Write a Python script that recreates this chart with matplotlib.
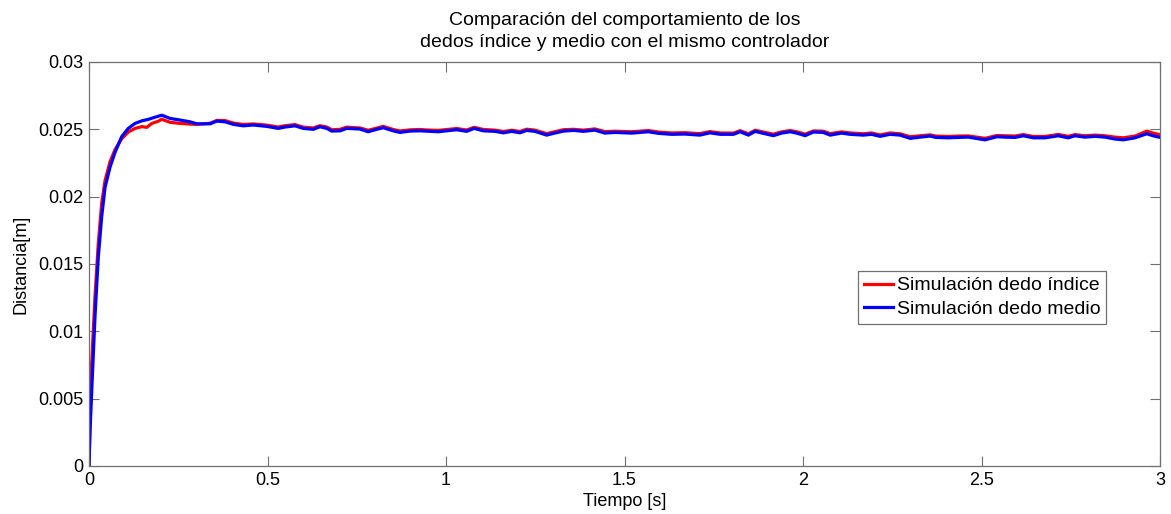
import matplotlib
matplotlib.use("Agg")
import matplotlib.pyplot as plt
import numpy as np

plt.rcParams["font.family"] = ["Liberation Sans", "DejaVu Sans"]

# valores (tiempo en s, distancia en mm)
t_rise_indice = [0, 0.003, 0.0075, 0.0168, 0.026, 0.0355, 0.045, 0.059, 0.073, 0.0915,
                 0.110, 0.129, 0.148, 0.162, 0.176, 0.194, 0.204, 0.227, 0.255, 0.283,
                 0.302, 0.339, 0.358]
d_rise_indice = [0, 3.4, 7.6, 12.6, 16.5, 19.5, 21.2, 22.6, 23.5, 24.3,
                 24.8, 25.07, 25.2, 25.15, 25.44, 25.6, 25.75, 25.52, 25.44, 25.39,
                 25.37, 25.45, 25.66]

t_rise_medio = [0, 0.003, 0.0093, 0.0168, 0.026, 0.0355, 0.045, 0.059, 0.073, 0.0915,
                0.110, 0.129, 0.148, 0.166, 0.185, 0.204, 0.227, 0.255, 0.283, 0.302,
                0.339, 0.358]
d_rise_medio = [0, 2.7, 6.6, 11.1, 15.5, 18.5, 20.7, 22.2, 23.3, 24.45,
                25.07, 25.44, 25.63, 25.74, 25.9, 26.05, 25.81, 25.69, 25.56, 25.41,
                25.41, 25.61]

t_plateau = [0.381, 0.404, 0.432, 0.460, 0.498, 0.530, 0.549, 0.577, 0.600, 0.628,
             0.647, 0.666, 0.680, 0.703, 0.722, 0.759, 0.782, 0.806, 0.824, 0.852,
             0.871, 0.899, 0.927, 0.941, 0.978, 1.030, 1.058, 1.079, 1.104, 1.137,
             1.161, 1.184, 1.207, 1.226, 1.249, 1.282, 1.301, 1.329, 1.357, 1.385,
             1.417, 1.445, 1.473, 1.520, 1.567, 1.595, 1.632, 1.669, 1.711, 1.739,
             1.768, 1.805, 1.824, 1.847, 1.866, 1.894, 1.917, 1.940, 1.964, 1.982,
             2.006, 2.029, 2.057, 2.076, 2.108, 2.132, 2.169, 2.192, 2.216, 2.244,
             2.272, 2.300, 2.328, 2.356, 2.372, 2.407, 2.435, 2.463, 2.510, 2.543,
             2.566, 2.594, 2.617, 2.645, 2.678, 2.715, 2.743, 2.762, 2.790, 2.818,
             2.846, 2.874, 2.897, 2.930, 2.963, 2.981, 3.0]

d_plateau_medio = [25.56, 25.37, 25.26, 25.32, 25.22, 25.07, 25.17, 25.26, 25.07, 25.00,
                   25.19, 25.07, 24.87, 24.89, 25.07, 25.02, 24.82, 25.00, 25.12, 24.89,
                   24.77, 24.87, 24.89, 24.87, 24.82, 24.97, 24.85, 25.07, 24.89, 24.85,
                   24.74, 24.85, 24.74, 24.92, 24.85, 24.57, 24.70, 24.87, 24.92, 24.85,
                   24.94, 24.72, 24.77, 24.72, 24.82, 24.70, 24.63, 24.65, 24.57, 24.74,
                   24.63, 24.63, 24.82, 24.57, 24.85, 24.67, 24.53, 24.72, 24.82, 24.72,
                   24.53, 24.80, 24.77, 24.57, 24.72, 24.63, 24.57, 24.63, 24.48, 24.63,
                   24.57, 24.33, 24.42, 24.50, 24.40, 24.37, 24.40, 24.42, 24.22, 24.45,
                   24.42, 24.40, 24.52, 24.37, 24.37, 24.52, 24.37, 24.52, 24.42, 24.48,
                   24.42, 24.28, 24.22, 24.37, 24.67, 24.52, 24.40]

d_plateau_indice = [25.65, 25.47, 25.36, 25.40, 25.31, 25.17, 25.27, 25.35, 25.16, 25.10,
                    25.27, 25.17, 24.97, 25.00, 25.16, 25.10, 24.93, 25.09, 25.22, 24.99,
                    24.88, 24.96, 24.99, 24.96, 24.92, 25.06, 24.95, 25.15, 24.99, 24.94,
                    24.84, 24.93, 24.84, 25.01, 24.94, 24.68, 24.80, 24.97, 25.00, 24.94,
                    25.03, 24.83, 24.86, 24.82, 24.91, 24.80, 24.73, 24.75, 24.68, 24.83,
                    24.73, 24.72, 24.90, 24.67, 24.93, 24.77, 24.64, 24.81, 24.91, 24.82,
                    24.64, 24.88, 24.86, 24.68, 24.81, 24.73, 24.67, 24.73, 24.58, 24.73,
                    24.67, 24.45, 24.52, 24.59, 24.50, 24.47, 24.50, 24.51, 24.33, 24.54,
                    24.52, 24.50, 24.61, 24.47, 24.47, 24.62, 24.48, 24.61, 24.52, 24.57,
                    24.52, 24.42, 24.37, 24.50, 24.87, 24.72, 24.60]

x_ticks = [0, 0.5, 1, 1.5, 2, 2.5, 3]
x_tick_labels = ["0", "0.5", "1", "1.5", "2", "2.5", "3"]
y_ticks = [0, 0.005, 0.01, 0.015, 0.02, 0.025, 0.03]
y_tick_labels = ["0", "0.005", "0.01", "0.015", "0.02", "0.025", "0.03"]

t_indice = np.array(t_rise_indice + t_plateau)
d_indice = np.array(d_rise_indice + d_plateau_indice) / 1000.0
t_medio = np.array(t_rise_medio + t_plateau)
d_medio = np.array(d_rise_medio + d_plateau_medio) / 1000.0

axis_color = "#707070"

fig = plt.figure(figsize=(11.71, 5.14), dpi=100)
ax = fig.add_axes([89 / 1171, 1 - 466 / 514, 1071 / 1171, 404 / 514])

ax.plot(t_indice, d_indice, color="#ff0000", linewidth=2.3, label="Simulación dedo índice")
ax.plot(t_medio, d_medio, color="#0000ff", linewidth=2.3, label="Simulación dedo medio")

ax.set_xlim(0, 3)
ax.set_ylim(0, 0.03)
ax.set_xticks(x_ticks)
ax.set_xticklabels(x_tick_labels)
ax.set_yticks(y_ticks)
ax.set_yticklabels(y_tick_labels)
ax.tick_params(direction="in", length=7, width=0.8, color=axis_color,
               labelsize=13, top=True, right=True, pad=4)

for spine in ax.spines.values():
    spine.set_color(axis_color)
    spine.set_linewidth(0.9)

ax.set_xlabel("Tiempo [s]", fontsize=13, labelpad=3)
ax.set_ylabel("Distancia[m]", fontsize=13, labelpad=6)
ax.set_title("Comparación del comportamiento de los\ndedos índice y medio con el mismo controlador",
             fontsize=14, pad=11, linespacing=1.35)

leg = ax.legend(loc="upper left", bbox_to_anchor=(0.718, 0.483), borderaxespad=0,
                fontsize=14, fancybox=False, framealpha=1, edgecolor=axis_color,
                handlelength=1.5, handletextpad=0.2, borderpad=0.3, labelspacing=0.3)
leg.get_frame().set_linewidth(0.9)

fig.savefig("out.png", dpi=100)
